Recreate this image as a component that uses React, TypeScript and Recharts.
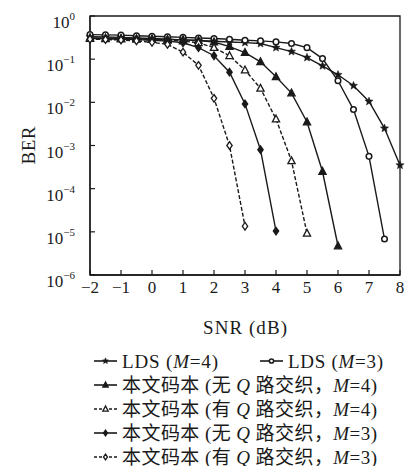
import React from "react";
import { LineChart, Line, XAxis, YAxis, ReferenceArea, Label } from "recharts";

// SNR (dB) sample points, every 0.5 dB
const snrValues = [-2, -1.5, -1, -0.5, 0, 0.5, 1, 1.5, 2, 2.5, 3, 3.5, 4, 4.5, 5, 5.5, 6, 6.5, 7, 7.5, 8];

// BER curves (missing tail = curve stops)
const berLdsM4 = [0.33, 0.325, 0.32, 0.31, 0.3, 0.29, 0.28, 0.27, 0.26, 0.25, 0.242, 0.23, 0.185, 0.15, 0.109, 0.07, 0.0435, 0.0243, 0.0105, 0.0025, 0.00035];
const berLdsM3 = [0.37, 0.365, 0.36, 0.35, 0.34, 0.33, 0.32, 0.31, 0.3, 0.29, 0.275, 0.265, 0.251, 0.23, 0.185, 0.103, 0.0316, 0.0068, 0.00056, 0.0000068];
const berNoQM4 = [0.31, 0.305, 0.3, 0.295, 0.29, 0.285, 0.28, 0.27, 0.25, 0.196, 0.142, 0.0867, 0.039, 0.0164, 0.0035, 0.00025, 0.0000047];
const berQM4 = [0.3, 0.297, 0.293, 0.288, 0.283, 0.275, 0.262, 0.24, 0.185, 0.12, 0.056, 0.021, 0.0041, 0.00044, 0.0000092];
const berNoQM3 = [0.3, 0.295, 0.29, 0.283, 0.275, 0.262, 0.24, 0.185, 0.12, 0.05, 0.0092, 0.0008, 0.0000104];
const berQM3 = [0.29, 0.285, 0.278, 0.265, 0.245, 0.22, 0.145, 0.072, 0.0124, 0.001, 0.0000135];

const xTicks = [-2, -1, 0, 1, 2, 3, 4, 5, 6, 7, 8];
const yTicks = [1e-6, 1e-5, 1e-4, 1e-3, 1e-2, 1e-1, 1];

const rows = snrValues.map((snr, i) => ({
  snr,
  ldsM4: berLdsM4[i],
  ldsM3: berLdsM3[i],
  noQM4: berNoQM4[i],
  qM4: berQM4[i],
  noQM3: berNoQM3[i],
  qM3: berQM3[i],
}));

const INK = "#1a1a1a";
const SERIF = "'Liberation Serif', 'Times New Roman', 'Noto Sans CJK SC', serif";

type MarkerKind = "star" | "circle" | "triFill" | "triOpen" | "diaFill" | "diaOpen";
type Seg = { t: string; i?: boolean };

const series: { key: string; marker: MarkerKind; dashed: boolean; text: Seg[] }[] = [
  { key: "ldsM4", marker: "star", dashed: false, text: [{ t: "LDS (" }, { t: "M", i: true }, { t: "=4)" }] },
  { key: "ldsM3", marker: "circle", dashed: false, text: [{ t: "LDS (" }, { t: "M", i: true }, { t: "=3)" }] },
  { key: "noQM4", marker: "triFill", dashed: false, text: [{ t: "本文码本 (无 " }, { t: "Q", i: true }, { t: " 路交织，" }, { t: "M", i: true }, { t: "=4)" }] },
  { key: "qM4", marker: "triOpen", dashed: true, text: [{ t: "本文码本 (有 " }, { t: "Q", i: true }, { t: " 路交织，" }, { t: "M", i: true }, { t: "=4)" }] },
  { key: "noQM3", marker: "diaFill", dashed: false, text: [{ t: "本文码本 (无 " }, { t: "Q", i: true }, { t: " 路交织，" }, { t: "M", i: true }, { t: "=3)" }] },
  { key: "qM3", marker: "diaOpen", dashed: true, text: [{ t: "本文码本 (有 " }, { t: "Q", i: true }, { t: " 路交织，" }, { t: "M", i: true }, { t: "=3)" }] },
];

// legend placement: sample start x, row centre y (inside legend svg), text width
const legendPos = [
  { x: 94, y: 21, w: 96 },
  { x: 260, y: 21, w: 95 },
  { x: 94, y: 45, w: 255 },
  { x: 94, y: 69, w: 255 },
  { x: 94, y: 93, w: 255 },
  { x: 94, y: 117, w: 255 },
];

function starPath(cx: number, cy: number, ro: number, ri: number) {
  let d = "";
  for (let k = 0; k < 10; k++) {
    const r = k % 2 === 0 ? ro : ri;
    const a = -Math.PI / 2 + (k * Math.PI) / 5;
    d += (k === 0 ? "M" : "L") + (cx + r * Math.cos(a)).toFixed(2) + "," + (cy + r * Math.sin(a)).toFixed(2);
  }
  return d + "Z";
}

function Marker({ kind, cx, cy, s = 1 }: { kind: MarkerKind; cx: number; cy: number; s?: number }) {
  const sw = 1.3;
  switch (kind) {
    case "star":
      return <path d={starPath(cx, cy, 4.3 * s, 1.9 * s)} fill={INK} stroke={INK} strokeWidth={0.5} />;
    case "circle":
      return <circle cx={cx} cy={cy} r={2.8 * s} fill="#fff" stroke={INK} strokeWidth={1.5} />;
    case "triFill":
    case "triOpen":
      return (
        <polygon
          points={`${cx},${cy - 4 * s} ${cx - 3.6 * s},${cy + 2.8 * s} ${cx + 3.6 * s},${cy + 2.8 * s}`}
          fill={kind === "triFill" ? INK : "#fff"}
          stroke={INK}
          strokeWidth={sw}
        />
      );
    default:
      return (
        <polygon
          points={`${cx},${cy - 3.8 * s} ${cx + 2.7 * s},${cy} ${cx},${cy + 3.8 * s} ${cx - 2.7 * s},${cy}`}
          fill={kind === "diaFill" ? INK : "#fff"}
          stroke={INK}
          strokeWidth={sw}
        />
      );
  }
}

function XTick({ x, y, payload }: any) {
  const v = payload.value;
  return (
    <g>
      <line x1={x} y1={y} x2={x} y2={y - 5} stroke={INK} strokeWidth={1.2} />
      <text x={x} y={y + 18} textAnchor="middle" fontFamily={SERIF} fontSize={17} fill={INK}>
        {v < 0 ? `−${-v}` : v}
      </text>
    </g>
  );
}

function YTick({ x, y, payload }: any) {
  const e = Math.round(Math.log10(payload.value));
  return (
    <g>
      <line x1={x} y1={y} x2={x + 5} y2={y} stroke={INK} strokeWidth={1.2} />
      <text x={x - 15} y={y + 12} textAnchor="end" fontFamily={SERIF} fontSize={17} fill={INK}>
        10
        <tspan dy={-8} fontSize={11}>
          {e === 0 ? "0" : `−${-e}`}
        </tspan>
      </text>
    </g>
  );
}

function XLabel({ viewBox }: any) {
  return (
    <text x={viewBox.x + viewBox.width / 2} y={viewBox.y + 59} textAnchor="middle" fontFamily={SERIF} fontSize={19} fill={INK} textLength={84} lengthAdjust="spacing">
      SNR (dB)
    </text>
  );
}

function YLabel({ viewBox }: any) {
  const cy = viewBox.y + viewBox.height / 2;
  return (
    <text x={28} y={cy} transform={`rotate(-90 28 ${cy})`} textAnchor="middle" dominantBaseline="central" fontFamily={SERIF} fontSize={19} fill={INK} textLength={38} lengthAdjust="spacing">
      BER
    </text>
  );
}

function LegendBlock() {
  return (
    <svg width={407} height={126} style={{ position: "absolute", left: 0, top: 340 }}>
      {series.map((s, i) => {
        const p = legendPos[i];
        return (
          <g key={s.key}>
            <line x1={p.x} y1={p.y} x2={p.x + 23} y2={p.y} stroke={INK} strokeWidth={1.6} strokeDasharray={s.dashed ? "3 2" : undefined} />
            <Marker kind={s.marker} cx={p.x + 11.5} cy={p.y} s={0.75} />
            <text x={p.x + 28} y={p.y} dominantBaseline="central" fontFamily={SERIF} fontSize={19} fill={INK} textLength={p.w} lengthAdjust="spacing">
              {s.text.map((g, j) => (
                <tspan key={j} fontStyle={g.i ? "italic" : undefined}>
                  {g.t}
                </tspan>
              ))}
            </text>
          </g>
        );
      })}
    </svg>
  );
}

export default function App() {
  return (
    <div style={{ position: "absolute", left: 0, top: 0, width: 407, height: 466, background: "#fff" }}>
      <LineChart width={407} height={340} data={rows} margin={{ top: 16, right: 7, left: 0, bottom: 0 }}>
        <XAxis
          dataKey="snr"
          type="number"
          domain={[-2, 8]}
          ticks={xTicks}
          height={65}
          tickSize={0}
          tickMargin={0}
          tickLine={false}
          tick={<XTick />}
          axisLine={{ stroke: INK, strokeWidth: 1.3 }}
          interval={0}
        >
          <Label content={<XLabel />} />
        </XAxis>
        <YAxis
          type="number"
          scale="log"
          domain={[1e-6, 1]}
          allowDataOverflow
          ticks={yTicks}
          width={90}
          tickSize={0}
          tickMargin={0}
          tickLine={false}
          tick={<YTick />}
          axisLine={{ stroke: INK, strokeWidth: 1.3 }}
          interval={0}
        >
          <Label content={<YLabel />} />
        </YAxis>
        <ReferenceArea x1={-2} x2={8} y1={1e-6} y2={1} fill="none" stroke={INK} strokeWidth={1.3} />
        {series.map((s) => (
          <Line
            key={s.key}
            dataKey={s.key}
            type="linear"
            stroke={INK}
            strokeWidth={1.4}
            strokeDasharray={s.dashed ? "4 2" : undefined}
            isAnimationActive={false}
            activeDot={false}
            dot={(p: any) =>
              p.cx == null || p.cy == null || p.value == null ? (
                <g key={`${s.key}-${p.index}`} />
              ) : (
                <Marker key={`${s.key}-${p.index}`} kind={s.marker} cx={p.cx} cy={p.cy} />
              )
            }
          />
        ))}
      </LineChart>
      <LegendBlock />
    </div>
  );
}
